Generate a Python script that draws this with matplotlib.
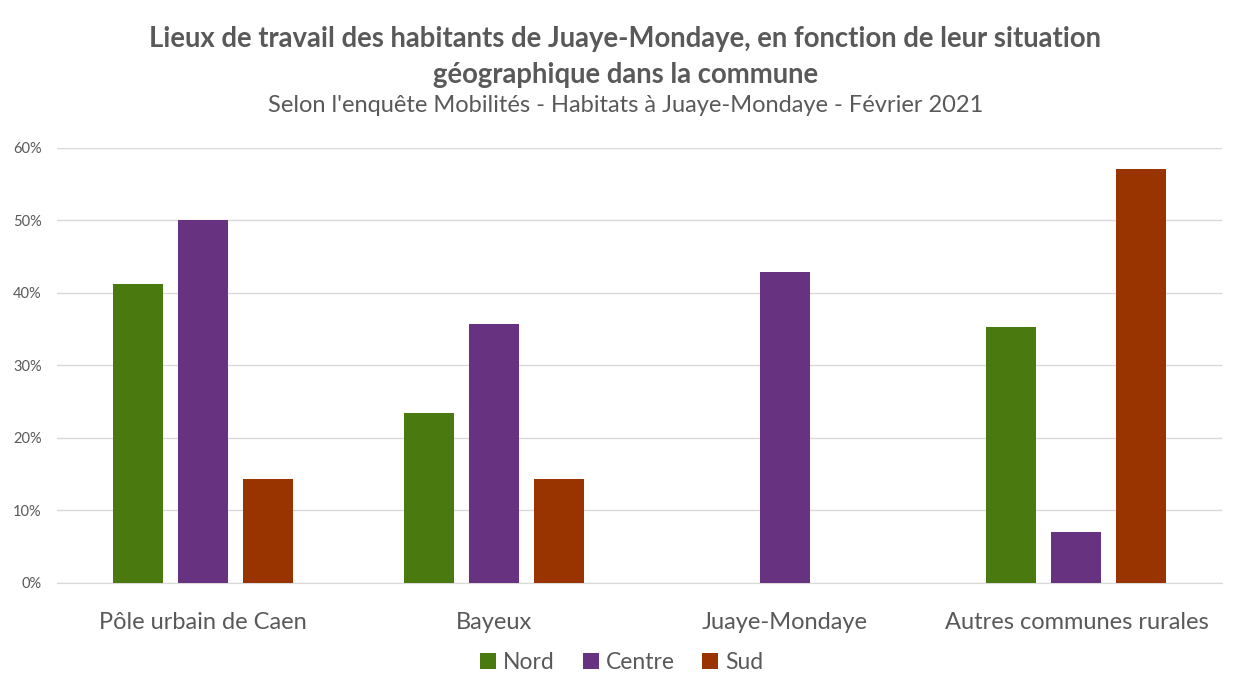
import numpy as np
import matplotlib.pyplot as plt
from matplotlib.ticker import PercentFormatter

plt.rcParams['font.family'] = ['Lato', 'DejaVu Sans']

categories = ['Pôle urbain de Caen', 'Bayeux', 'Juaye-Mondaye', 'Autres communes rurales']
nord = [0.412, 0.235, 0.0, 0.353]
centre = [0.50, 0.357, 0.429, 0.071]
sud = [0.143, 0.143, 0.0, 0.571]
series = ['Nord', 'Centre', 'Sud']
colors = ['#4a7a0f', '#673381', '#993300']

fig = plt.figure(figsize=(12.36, 6.87), dpi=100)
ax = fig.add_axes([0.0461, 0.1514, 0.9426, 0.6332])

x = np.arange(len(categories))
w = 0.172
off = 0.223
for i, (vals, lab, c) in enumerate(zip([nord, centre, sud], series, colors)):
    ax.bar(x + (i - 1) * off, vals, width=w, color=c, label=lab, zorder=3)

ax.set_xlim(-0.5, len(categories) - 0.5)
ax.set_ylim(0, 0.6)
ax.set_yticks(np.arange(0, 0.61, 0.1))
ax.yaxis.set_major_formatter(PercentFormatter(1.0, decimals=0))
ax.grid(axis='y', color='#d9d9d9', lw=1, zorder=0)
ax.set_xticks(x)
ax.set_xticklabels(categories, fontsize=17, color='#595959')
ax.tick_params(axis='y', labelsize=10.5, labelcolor='#595959', length=0, pad=11)
ax.tick_params(axis='x', length=0, pad=21)
for s in ['top', 'right', 'left']:
    ax.spines[s].set_visible(False)
ax.spines['bottom'].set_color('#d9d9d9')

fig.text(0.506, 0.917, 'Lieux de travail des habitants de Juaye-Mondaye, en fonction de leur situation\ngéographique dans la commune',
         ha='center', va='center', fontsize=19.8, fontweight='bold', color='#595959', linespacing=1.52)
fig.text(0.506, 0.846, "Selon l'enquête Mobilités - Habitats à Juaye-Mondaye - Février 2021",
         ha='center', va='center', fontsize=17, color='#595959')

fig.legend(loc='center', bbox_to_anchor=(0.503, 0.036), ncol=3, frameon=False,
           fontsize=16.5, labelcolor='#595959', handlelength=0.7, handleheight=0.7,
           handletextpad=0.3, columnspacing=1.2)

fig.savefig('out.png', dpi=100)
